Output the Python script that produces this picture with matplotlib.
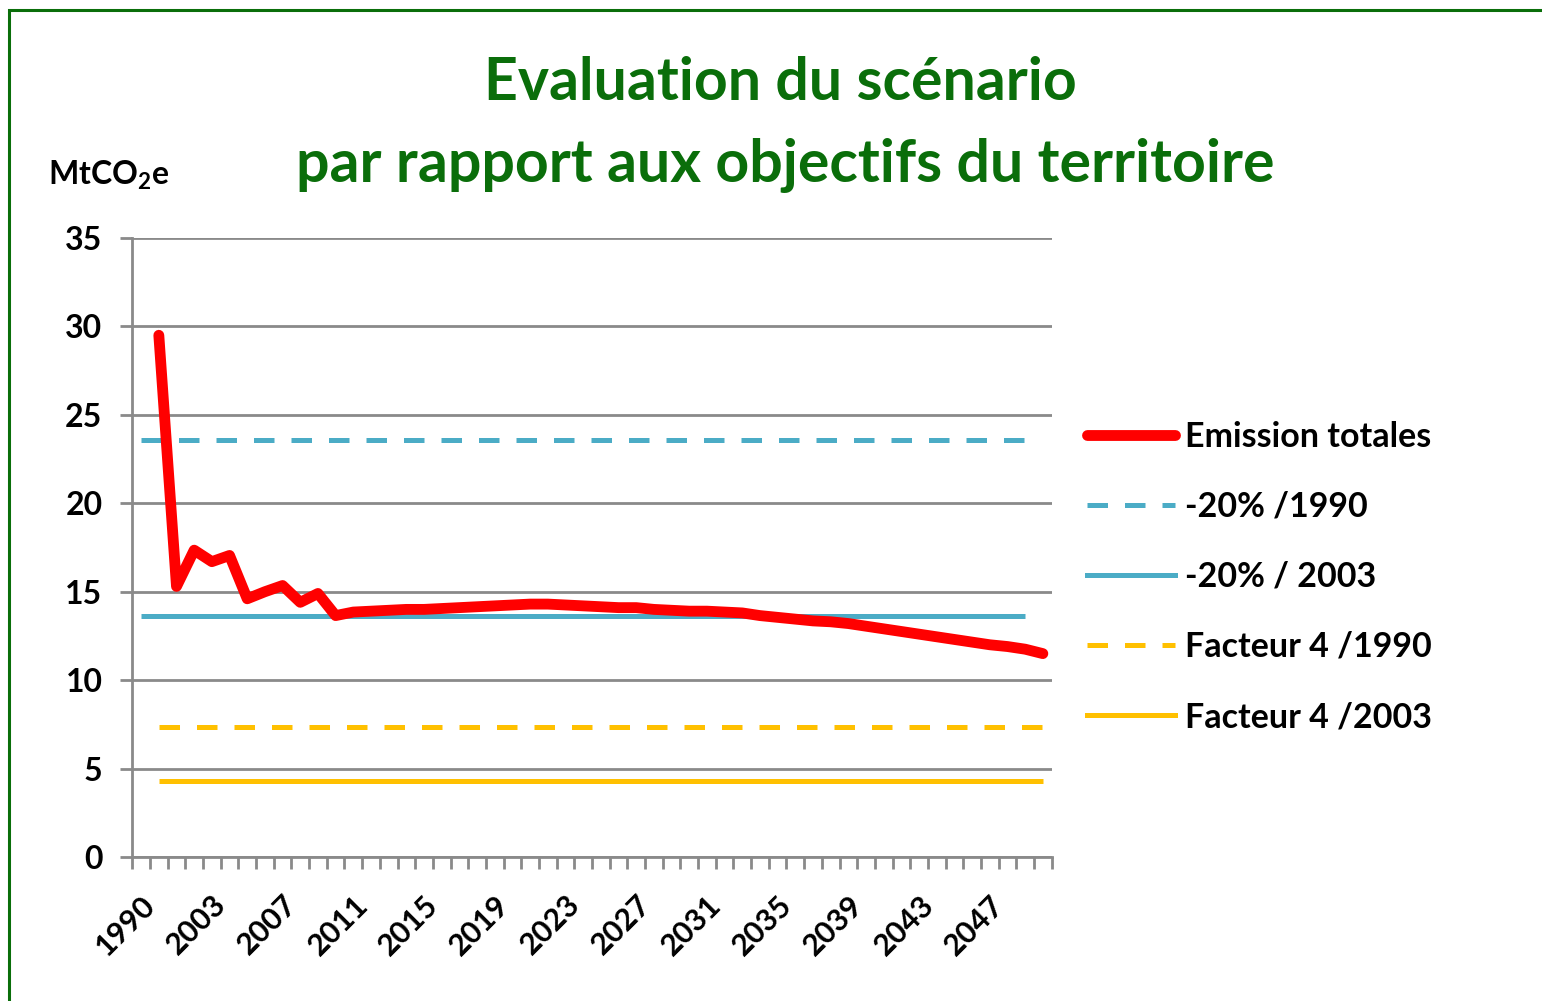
import matplotlib
matplotlib.use('Agg')
import matplotlib.pyplot as plt
import numpy as np
from matplotlib.patches import Rectangle
from matplotlib.lines import Line2D

plt.rcParams['font.family'] = ['Lato', 'DejaVu Sans']
plt.rcParams['mathtext.fontset'] = 'custom'
plt.rcParams['mathtext.rm'] = 'Lato:bold'
plt.rcParams['mathtext.bf'] = 'Lato:bold'

# categories (1990 then 2000..2050)
years = ['1990'] + [str(y) for y in range(2000, 2051)]

# total emissions (MtCO2e), nothing for 1990
emissions = [np.nan, 29.5, 15.3, 17.35, 16.7, 17.05, 14.6, 15.0, 15.35, 14.4,
             14.9, 13.65, 13.85, 13.9, 13.95, 14.0, 14.0, 14.05, 14.1, 14.15,
             14.2, 14.25, 14.3, 14.3, 14.25, 14.2, 14.15, 14.1, 14.1, 14.0,
             13.95, 13.9, 13.9, 13.85, 13.8, 13.65, 13.55, 13.45, 13.35, 13.3,
             13.2, 13.05, 12.9, 12.75, 12.6, 12.45, 12.3, 12.15, 12.0, 11.9,
             11.75, 11.5]

# objective levels and the category range each one covers
obj_labels = ['-20% /1990', '-20% / 2003', 'Facteur 4 /1990', 'Facteur 4 /2003']
obj_levels = [23.6, 13.6, 7.35, 4.3]
obj_first = ['1990', '1990', '2000', '2000']
obj_last = ['2049', '2049', '2050', '2050']

tick_labels = ['1990', '2003', '2007', '2011', '2015', '2019', '2023',
               '2027', '2031', '2035', '2039', '2043', '2047']

RED = '#ff0000'
BLUE = '#4bacc6'
YELLOW = '#ffc000'
GRID = '#8a8a8a'
GREEN = '#0a6e0a'

fig = plt.figure(figsize=(15.42, 10.01), dpi=100)
fig.patch.set_facecolor('white')
fig.patches.append(Rectangle((9 / 1542, -0.05), 1.1, 1 - 10 / 1001 + 0.05,
                             transform=fig.transFigure, fill=False,
                             edgecolor=GREEN, linewidth=2.2))

ax = fig.add_axes([132.3 / 1542, 1 - 857 / 1001, 919.4 / 1542, 619 / 1001])

x = np.arange(len(years))
styles = [dict(color=BLUE, dashes=(4.1, 3.4)), dict(color=BLUE),
          dict(color=YELLOW, dashes=(4.1, 3.4)), dict(color=YELLOW)]
for lvl, a, b, st in zip(obj_levels, obj_first, obj_last, styles):
    i0, i1 = years.index(a), years.index(b)
    xs = x[i0:i1 + 1]
    ax.plot(xs, [lvl] * len(xs), linewidth=3.6, solid_capstyle='butt',
            dash_capstyle='butt', zorder=3, **st)

ax.plot(x, emissions, color=RED, linewidth=7.8,
        solid_capstyle='round', solid_joinstyle='round', zorder=4)

ax.set_xlim(-0.5, len(years) - 0.5)
ax.set_ylim(0, 35)
ax.set_yticks(range(0, 36, 5))
ax.yaxis.grid(True, color=GRID, linewidth=2)
ax.set_axisbelow(True)
for s in ['top', 'right']:
    ax.spines[s].set_visible(False)
for s in ['left', 'bottom']:
    ax.spines[s].set_color(GRID)
    ax.spines[s].set_linewidth(2)
ax.tick_params(axis='y', length=8.5, width=2, color=GRID, pad=13,
               labelsize=23)
for t in ax.get_yticklabels():
    t.set_fontweight('bold')

# category boundary tick marks, labels every 4th category
ax.set_xticks(np.arange(len(years) + 1) - 0.5)
ax.set_xticklabels([])
ax.tick_params(axis='x', length=8.5, width=2, color=GRID)
ax.set_xticks([years.index(t) for t in tick_labels], minor=True)
ax.set_xticklabels(tick_labels, minor=True, rotation=45, ha='right',
                   va='top', rotation_mode='anchor', fontsize=22,
                   fontweight='bold')
ax.tick_params(axis='x', which='minor', length=0, pad=24)

fig.text(780 / 1542, 1 - 83 / 1001, 'Evaluation du scénario', ha='center',
         va='center', fontsize=42.5, fontweight='bold', color=GREEN)
fig.text(785 / 1542, 1 - 166 / 1001, 'par rapport aux objectifs du territoire',
         ha='center', va='center', fontsize=42.5, fontweight='bold', color=GREEN)
fig.text(48 / 1542, 1 - 175 / 1001, r'MtCO$_\mathbf{2}$e', ha='left',
         va='center', fontsize=23, fontweight='bold')

leg_handles = [Line2D([], [], color=RED, linewidth=7.8, solid_capstyle='round')]
leg_handles += [Line2D([], [], linewidth=3.6, **st) for st in styles]
fig.legend(leg_handles, ['Emission totales'] + obj_labels,
           loc='upper left', bbox_to_anchor=(1056 / 1542, 1 - 390 / 1001),
           frameon=False, handlelength=2.6, handletextpad=0.3,
           labelspacing=1.12, prop={'size': 24.5, 'weight': 'bold'})

fig.savefig('out.png', dpi=100)
